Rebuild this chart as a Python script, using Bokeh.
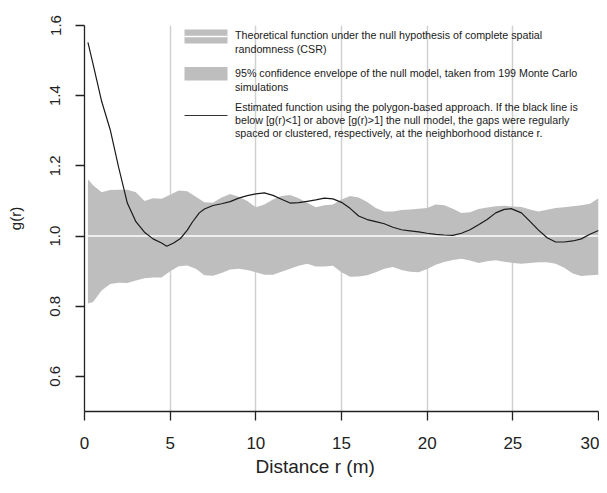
from bokeh.plotting import figure
from bokeh.models import FixedTicker, Range1d, Label, BoxAnnotation, Title
from bokeh.embed import file_html
from bokeh.resources import INLINE

# ---------------- data ----------------
# 95% Monte Carlo envelope of the null model (CSR)
r_env = [0.2, 0.5, 1.0, 1.5, 2.0, 2.5, 3.0, 3.5, 4.0, 4.5, 5.0, 5.5, 6.0, 6.5,
         7.0, 7.5, 8.0, 8.5, 9.0, 9.5, 10.0, 10.5, 11.0, 11.5, 12.0, 12.5,
         13.0, 13.5, 14.0, 14.5, 15.0, 15.5, 16.0, 16.5, 17.0, 17.5, 18.0,
         18.5, 19.0, 19.5, 20.0, 20.5, 21.0, 21.5, 22.0, 22.5, 23.0, 23.5,
         24.0, 24.5, 25.0, 25.5, 26.0, 26.5, 27.0, 27.5, 28.0, 28.5, 29.0,
         29.5, 30.0]
env_hi = [1.162, 1.145, 1.125, 1.131, 1.132, 1.132, 1.125, 1.100, 1.108, 1.106,
          1.118, 1.130, 1.128, 1.112, 1.096, 1.095, 1.110, 1.120, 1.112, 1.100,
          1.082, 1.090, 1.104, 1.114, 1.117, 1.108, 1.095, 1.082, 1.088, 1.090,
          1.104, 1.114, 1.110, 1.097, 1.080, 1.070, 1.070, 1.074, 1.076, 1.078,
          1.080, 1.090, 1.088, 1.078, 1.066, 1.068, 1.077, 1.081, 1.085, 1.086,
          1.084, 1.083, 1.076, 1.070, 1.075, 1.080, 1.082, 1.085, 1.088, 1.092,
          1.108]
env_lo = [0.808, 0.812, 0.845, 0.863, 0.867, 0.866, 0.873, 0.880, 0.882, 0.882,
          0.900, 0.914, 0.916, 0.907, 0.888, 0.887, 0.895, 0.905, 0.907, 0.903,
          0.897, 0.890, 0.890, 0.898, 0.907, 0.915, 0.921, 0.913, 0.913, 0.915,
          0.897, 0.884, 0.885, 0.888, 0.897, 0.907, 0.912, 0.903, 0.898, 0.897,
          0.906, 0.918, 0.926, 0.932, 0.935, 0.930, 0.923, 0.928, 0.931, 0.927,
          0.923, 0.921, 0.923, 0.925, 0.925, 0.921, 0.910, 0.893, 0.886, 0.888,
          0.890]

# Theoretical function under CSR
r_theo = [0.0, 30.0]
g_theo = [1.0, 1.0]

# Estimated pair-correlation function g(r)
r_obs = [0.2, 0.5, 1.0, 1.5, 2.0, 2.5, 3.0, 3.5, 4.0, 4.5, 4.8, 5.2, 5.6, 6.0,
         6.3, 6.7, 7.0, 7.5, 8.0, 8.5, 9.0, 9.5, 10.0, 10.5, 11.0, 11.5, 12.0,
         12.5, 13.0, 13.5, 14.0, 14.5, 15.0, 15.5, 16.0, 16.5, 17.0, 17.5,
         18.0, 18.5, 19.0, 19.5, 20.0, 20.5, 21.0, 21.5, 22.0, 22.5, 23.0,
         23.5, 24.0, 24.5, 24.9, 25.5, 26.0, 26.5, 27.0, 27.5, 28.0, 28.5,
         29.0, 29.5, 30.0]
g_obs = [1.552, 1.490, 1.384, 1.303, 1.194, 1.094, 1.041, 1.011, 0.992, 0.980,
         0.971, 0.980, 0.993, 1.017, 1.040, 1.066, 1.077, 1.087, 1.092, 1.098,
         1.108, 1.115, 1.120, 1.123, 1.116, 1.105, 1.094, 1.095, 1.099, 1.103,
         1.108, 1.106, 1.096, 1.079, 1.057, 1.047, 1.041, 1.035, 1.025, 1.018,
         1.015, 1.012, 1.008, 1.005, 1.003, 1.002, 1.008, 1.018, 1.032, 1.047,
         1.066, 1.076, 1.078, 1.066, 1.042, 1.017, 0.995, 0.983, 0.983, 0.986,
         0.992, 1.005, 1.016]

x_ticks = [0, 5, 10, 15, 20, 25, 30]
x_tick_labels = ["0", "5", "10", "15", "20", "25", "30"]
y_ticks = [0.6, 0.8, 1.0, 1.2, 1.4, 1.6]
y_tick_labels = ["0.6", "0.8", "1.0", "1.2", "1.4", "1.6"]

x_title = "Distance r (m)"
y_title = "g(r)"

legend_lines = [
    ["Theoretical function under the null hypothesis of complete spatial",
     "randomness (CSR)"],
    ["95% confidence envelope of the null model, taken from 199 Monte Carlo",
     "simulations"],
    ["Estimated function using the polygon-based approach. If the black line is",
     "below [g(r)<1] or above [g(r)>1] the null model, the gaps were regularly",
     "spaced or clustered, respectively, at the neighborhood distance r."],
]

# ---------------- styling ----------------
FONT = "Liberation Sans"
ENV_COLOR = "#bebebe"
INK = "#222222"

p = figure(width=599, height=485,
           x_range=Range1d(0, 30), y_range=Range1d(0.5, 1.6),
           output_backend="svg", toolbar_location=None,
           min_border_left=84, min_border_right=1,
           min_border_top=25, min_border_bottom=74)
p.outline_line_color = None
p.background_fill_color = "white"

# grid: vertical only
p.xgrid.ticker = FixedTicker(ticks=x_ticks)
p.xgrid.grid_line_color = "#d0d0d0"
p.xgrid.grid_line_width = 1.5
p.ygrid.visible = False

# glyphs
p.varea(x=r_env, y1=env_lo, y2=env_hi, fill_color=ENV_COLOR)
p.line(r_theo, g_theo, line_color="white", line_width=1.6)
p.line(r_obs, g_obs, line_color="#1a1a1a", line_width=1.2)

# axes
for ax in (p.xaxis[0], p.yaxis[0]):
    ax.axis_line_color = INK
    ax.axis_line_width = 1.3
    ax.major_tick_line_color = INK
    ax.major_tick_line_width = 1.3
    ax.major_tick_out = 9
    ax.major_tick_in = 0
    ax.minor_tick_line_color = None
    ax.major_label_text_font = FONT
    ax.major_label_text_color = INK

p.xaxis.ticker = FixedTicker(ticks=x_ticks)
p.xaxis.major_label_overrides = dict(zip(x_ticks, x_tick_labels))
p.xaxis.major_label_text_font_size = "17px"
p.xaxis.major_label_standoff = 16

p.yaxis.ticker = FixedTicker(ticks=y_ticks)
p.yaxis.major_label_overrides = dict(zip(y_ticks, y_tick_labels))
p.yaxis.major_label_text_font_size = "15px"
p.yaxis.major_label_orientation = "vertical"
p.yaxis.major_label_standoff = 15
p.yaxis.axis_label = y_title
p.yaxis.axis_label_text_font = FONT
p.yaxis.axis_label_text_font_size = "15px"
p.yaxis.axis_label_text_font_style = "normal"
p.yaxis.axis_label_text_color = INK
p.yaxis.axis_label_standoff = 24

# x-axis title (off-centre, as in the original), stacked below the axis
xt = Title(text=x_title, align="left", offset=171, standoff=5,
           text_font=FONT, text_font_size="19px", text_font_style="normal",
           text_color=INK)
p.add_layout(xt, "below")

# ---------------- legend (drawn manually, frame-relative screen units) ----
def sbox(left, right, bottom, top, color):
    return BoxAnnotation(left=left, right=right, bottom=bottom, top=top,
                         left_units="screen", right_units="screen",
                         bottom_units="screen", top_units="screen",
                         fill_color=color, fill_alpha=1.0, line_color=None)

p.add_layout(sbox(100, 143, 368, 382, ENV_COLOR))
p.add_layout(sbox(100, 143, 374.2, 375.8, "white"))
p.add_layout(sbox(100, 143, 331, 344.5, ENV_COLOR))
p.add_layout(sbox(100, 143, 295.4, 296.6, "#333333"))

baselines = [[376.3, 363.0], [338.3, 325.0], [305.0, 291.7, 278.4]]
for lines, ys in zip(legend_lines, baselines):
    for txt, yb in zip(lines, ys):
        p.add_layout(Label(x=150.5, y=yb, x_units="screen", y_units="screen",
                           text=txt, text_font=FONT, text_font_size="10.7px",
                           text_color="#1a1a1a", text_align="left",
                           text_baseline="alphabetic"))

open("out.html", "w").write(file_html(p, INLINE))
